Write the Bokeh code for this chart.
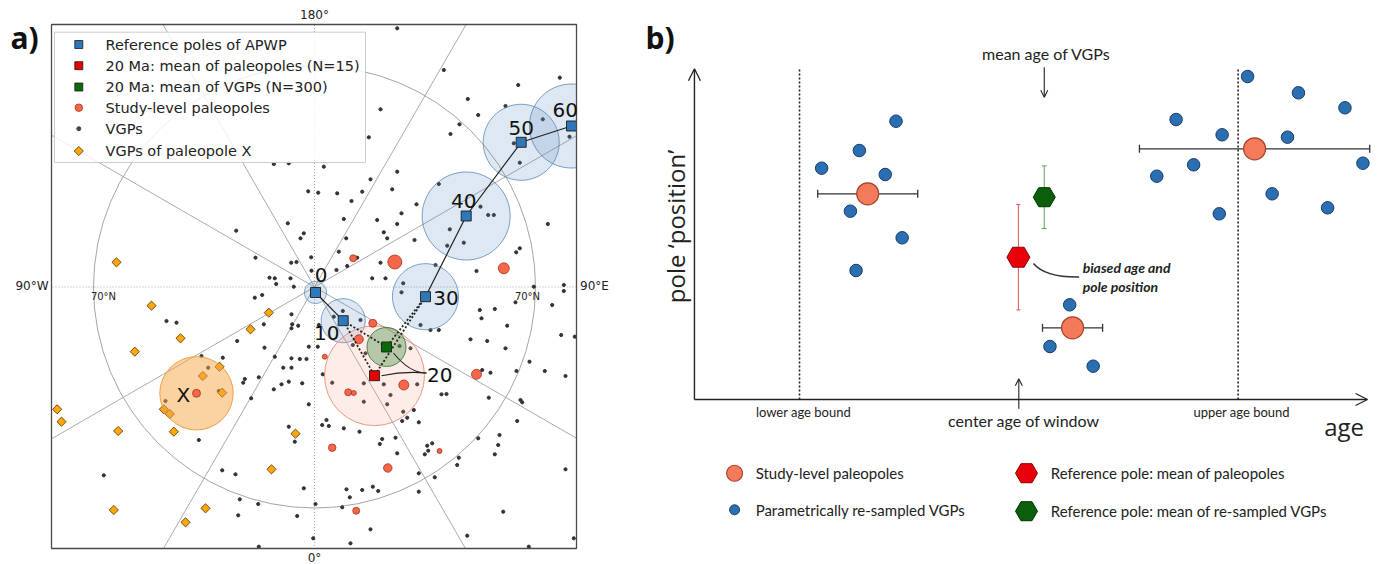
import numpy as np
from bokeh.plotting import figure
from bokeh.layouts import row
from bokeh.models import (Label, Arrow, OpenHead, ColumnDataSource, Whisker, TeeHead)
from bokeh.embed import file_html
from bokeh.resources import INLINE

# ================= Panel a data (polar map units, geographic pole at origin) =================
apwp_age = [0, 10, 30, 40, 50, 60]
apwp_x = [1.0, 28.7, 111.0, 151.7, 206.7, 257.0]
apwp_y = [-5.5, -33.7, -9.7, 71.0, 144.7, 161.0]
apwp_a95 = [11, 22, 33, 44, 38, 42]

mean_pp_20 = (60.0, -88.7)      # 20 Ma mean of paleopoles
mean_pp_20_a95 = 50
mean_vgp_20 = (72.0, -60.0)     # 20 Ma mean of VGPs
mean_vgp_20_a95 = 19.5

pole_X = (-118.0, -106.3)
pole_X_a95 = 36.7

lat70_radius = 221
map_box = (-263, 262, -261.5, 262.5)   # left, right, bottom, top of the map panel

paleo_x = [38.7, 80.3, 189.3, 58.3, 44.3, 10.3, 89.3, 33.7, 39.3, 162.0, 17.7, 125.0, 73.3, 41.7, -118.0]
paleo_y = [28.7, 25.0, 18.7, -36.3, -52.3, -69.7, -98.0, -105.3, -106.0, -87.3, -160.7, -164.0, -181.0, -223.7, -106.3]
paleo_d = [7, 14, 11, 8, 9, 5, 10, 7, 5, 10, 7.5, 5, 8.5, 7, 8]

vgp_xy = [
    (-40.7, 123), (-25.7, 123.7), (-6.3, 95.7), (3.7, 94.3), (-26.7, 63.7), (-10.7, 53.7), (-14, 48.7),
    (-78.3, 56.3), (-59, 29.3), (-3.3, 29.7), (-23.3, 24.3), (-18, 25), (-45, 9.3), (-39.7, 8.7),
    (-24, 8.7), (-38.3, 3), (-3, 16.3), (-20.7, 0.3),
    (82.7, 258.7), (129.3, 217), (203.7, 202), (245.3, 209.3), (153.3, 188), (163.7, 172), (66, 177.7),
    (145, 162.7), (136, 153), (191, 181), (54.3, 149.7), (228.3, 167.7), (199.3, 143.7), (255, 150.3),
    (205.3, 124.3), (9.3, 120.3), (82.7, 115.3), (56, 107.7), (77.7, 97.7), (124.3, 103), (22.7, 93.7),
    (47.7, 95.3), (37, 86), (102, 82.7), (87, 73.7), (62.7, 67), (82.7, 63), (29.3, 68), (69.3, 54.7),
    (72.7, 48.7), (31.7, 48.7), (100, 47), (135.3, 57.7), (166, 80.3), (173.7, 72), (179.3, 72),
    (149.3, 44.3), (132.7, 41.3), (233.3, 63), (205.3, 38.7), (201.7, 34.7), (24.3, 35.3), (42.7, 29.3),
    (32.7, 21), (22, 17), (66, 24.3), (121, 22), (162, 16), (57.7, 8.7), (71, 8.7), (219.3, 0.3),
    (249.3, 2), (88.7, 3.7),
    (-59.7, -10.7), (-52.3, -8), (-148, -34), (-138, -35.7), (-23, -27.3), (-22.3, -37.3),
    (-16.3, -38.7), (-23, -41.3), (-50.7, -37.3), (-77.3, -54), (-50, -60.7), (-5.7, -59.7),
    (-113, -69), (-91.7, -70.7), (-106.3, -80.7), (-39.7, -69.7), (-23, -71.3), (-14.7, -72), (-8, -72),
    (-31.3, -80.7), (-23, -80.7), (-69.7, -92), (-71.3, -95.7), (-55.7, -90.3), (-25.7, -94.7),
    (-33, -97.3), (-12.3, -96.3), (-40.7, -102.3), (-95.7, -104), (-149, -114), (-63.3, -111.3),
    (-5.7, -117.3), (-115.7, -153), (-25.7, -139.7), (-19.7, -154.7), (-92.3, -183.3), (-79, -187.3),
    (-210.7, -188.3), (-74.7, -212.3), (-56.3, -217), (-10.7, -201.3), (-76.3, -228.3), (-17.3, -229),
    (-1.3, -251.3), (-55.7, -259.7),
    (87, -5.3), (28.3, -24), (19.3, -29.7), (46, -33), (4.3, -38), (3.3, -59.7), (106, -38), (116, -43),
    (124.3, -43), (165.3, -23), (180.3, -22), (167, -31.3), (201, -15.3), (192.7, -38.7), (237.7, -18),
    (249.3, -4), (156, -52.3), (172.7, -54), (246.7, -48), (260.3, -49.7), (191, -61.3), (215, -74.7),
    (202, -84), (230.3, -84), (251, -89), (176, -85.7), (167.7, -83), (85, -59), (96, -61.3),
    (38.3, -58), (51, -66.3), (8.3, -87.3), (17.7, -95.7), (49.3, -96.3), (69.3, -97.3), (102.7, -97.3),
    (76, -108), (127, -107.3), (132, -107), (49.3, -114.7), (72.7, -117.3), (174.3, -110.7), (206, -113),
    (207.7, -115.3), (88.7, -124.7), (99.3, -123), (87.7, -134), (92.7, -130.7), (104.3, -135.3),
    (12, -133), (14.3, -139), (7.7, -138), (29.3, -141.3), (45, -144.7), (202.7, -134), (185, -148),
    (163.7, -151.3), (67.7, -152), (81, -150.7), (65.3, -157), (112.7, -158.7), (117.7, -156.3),
    (113.7, -163.7), (110.3, -167.3), (183.7, -158), (180.3, -167.3), (144.3, -170.7), (142.7, -178),
    (82.7, -166.3), (104.3, -186.3), (120.3, -190.3), (251, -182.3), (32, -202.3), (35.3, -210.3),
    (47.7, -203), (58.3, -199.7), (63.7, -204), (104.3, -204.7), (1, -217), (27.7, -220.3),
    (188.7, -224.7), (56, -242.3), (152.7, -248.7), (36, -256.3), (214.3, -259.7), (259.3, -251.3),
]
vgp_x = [p[0] for p in vgp_xy]
vgp_y = [p[1] for p in vgp_xy]

vgpX_x = [-198, -163, -45.7, -64, -134, -179.7, -95, -111.7, -92.3, -150.7, -144.7, -257.3, -253,
          -196.3, -140.7, -19, -43, -200.7, -109, -129]
vgpX_y = [24.7, -18.7, -25.7, -42.3, -51.3, -64.7, -79.7, -89, -105.7, -122.3, -127, -122.3, -134.7,
          -144, -144.7, -146.7, -182.3, -223, -221.3, -235.3]

legend_labels = ["Reference poles of APWP", "20 Ma: mean of paleopoles (N=15)",
                 "20 Ma: mean of VGPs (N=300)", "Study-level paleopoles", "VGPs",
                 "VGPs of paleopole X"]

# label offsets (layout) for APWP age labels
lab_dx = [5.5, -16.4, 20.5, -2.4, 0.1, -6.3]
lab_dy = [17.5, -12.3, -1.0, 15.2, 14.6, 16.3]

BLUE = "#2e78b7"
EDGE = "#1c1c1c"
PALEO = "#f4674a"
PALEO_EDGE = "#a8321e"
ORANGE = "#ffa60a"
ORANGE_EDGE = "#4a3000"

L, R, B, T = map_box


def clipped_circle(cx, cy, r, n=120):
    th = np.linspace(0, 2 * np.pi, n)
    xs = np.clip(cx + r * np.cos(th), L, R)
    ys = np.clip(cy + r * np.sin(th), B, T)
    return list(xs), list(ys)


pa = figure(width=640, height=564, x_range=(-314, 326), y_range=(-277.5, 286.5),
            x_axis_location=None, y_axis_location=None, toolbar_location=None,
            output_backend="svg", min_border=0)
pa.grid.visible = False
pa.outline_line_color = None

# graticule
pa.circle(x=[0], y=[0], radius=lat70_radius, fill_color=None, line_color="#9a9a9a", line_width=0.9)
for ang in [30, 60, 120, 150, 210, 240, 300, 330, 0, 90, 180, 270]:
    c, s = np.cos(np.radians(ang)), np.sin(np.radians(ang))
    tx = (R if c > 0 else -L) / abs(c) if abs(c) > 1e-9 else 1e9
    ty = (T if s > 0 else -B) / abs(s) if abs(s) > 1e-9 else 1e9
    t = min(tx, ty)
    dash = "1 2" if ang % 90 == 0 else "solid"
    pa.segment(x0=[0], y0=[0], x1=[t * c], y1=[t * s], line_color="#a0a0a0", line_width=0.9,
               line_dash=dash)

# VGPs and VGPs of paleopole X
pa.scatter(vgp_x, vgp_y, size=3.2, color="#333333")
pa.scatter(vgpX_x, vgpX_y, marker="square", angle=45, angle_units="deg", size=6.5,
           fill_color=ORANGE, line_color=ORANGE_EDGE, line_width=0.8)

# confidence circles
pa.circle(x=[pole_X[0]], y=[pole_X[1]], radius=pole_X_a95, fill_color="#f7a645", fill_alpha=0.5,
          line_color="#f0a040", line_width=1)
cxs, cys = [], []
for x, y, r in zip(apwp_x, apwp_y, apwp_a95):
    xs, ys = clipped_circle(x, y, r)
    cxs.append(xs)
    cys.append(ys)
pa.patches(cxs, cys, fill_color="#5b8cc0", fill_alpha=0.2, line_color="#4f7fb3", line_alpha=0.75,
           line_width=1)
pa.circle(x=[mean_pp_20[0]], y=[mean_pp_20[1]], radius=mean_pp_20_a95, fill_color="#f6a08e",
          fill_alpha=0.2, line_color="#e3826c", line_alpha=0.8, line_width=1)
pa.circle(x=[mean_vgp_20[0]], y=[mean_vgp_20[1]], radius=mean_vgp_20_a95, fill_color="#3f8f3f",
          fill_alpha=0.38, line_color="#2f6f2f", line_alpha=0.8, line_width=1)

# study-level paleopoles
pa.scatter(paleo_x, paleo_y, size=paleo_d, fill_color=PALEO, line_color=PALEO_EDGE, line_width=0.8)

# APWP path
pa.line(apwp_x[:2], apwp_y[:2], line_color="#222222", line_width=1.2)
pa.line(apwp_x[2:], apwp_y[2:], line_color="#222222", line_width=1.2)
for mx, my in [mean_pp_20, mean_vgp_20]:
    pa.line([apwp_x[1], mx, apwp_x[2]], [apwp_y[1], my, apwp_y[2]], line_color="#222222",
            line_width=1.8, line_dash="2 2")

pa.scatter(apwp_x, apwp_y, marker="square", size=10, fill_color=BLUE, line_color=EDGE, line_width=0.9)
pa.scatter([mean_pp_20[0]], [mean_pp_20[1]], marker="square", size=10, fill_color="#e60000",
           line_color=EDGE, line_width=0.9)
pa.scatter([mean_vgp_20[0]], [mean_vgp_20[1]], marker="square", size=10, fill_color="#0a6a0a",
           line_color=EDGE, line_width=0.9)

# leader lines for "20"
pa.quadratic(x0=[112, 112], y0=[-86, -86], x1=[mean_pp_20[0] + 7, mean_vgp_20[0] + 7],
             y1=[mean_pp_20[1], mean_vgp_20[1] - 6], cx=[90, 95], cy=[-84, -86],
             line_color="#222222", line_width=1.1)

# map frame
pa.quad(left=[L], right=[R], bottom=[B], top=[T], fill_color=None, line_color="#4a4a4a",
        line_width=1.3)

for age, x, y, dx, dy in zip(apwp_age, apwp_x, apwp_y, lab_dx, lab_dy):
    pa.add_layout(Label(x=x + dx, y=y + dy, text=str(age), text_align="center",
                        text_baseline="middle", text_font="DejaVu Sans", text_font_size="20px",
                        text_color="#111111"))
pa.add_layout(Label(x=125.2, y=-87.7, text="20", text_align="center", text_baseline="middle",
                    text_font="DejaVu Sans", text_font_size="20px", text_color="#111111"))
pa.add_layout(Label(x=-131.2, y=-107.7, text="X", text_align="center", text_baseline="middle",
                    text_font="DejaVu Sans", text_font_size="20px", text_color="#111111"))

# graticule labels
for tx, ty, t, fs in [(0, 272.5, "180°", "12px"), (0, -270.5, "0°", "12px"),
                      (-282.5, 1.5, "90°W", "12px"), (280, 1.5, "90°E", "12px"),
                      (-211, -9.5, "70°N", "10px"), (213, -9.5, "70°N", "10px")]:
    pa.add_layout(Label(x=tx, y=ty, text=t, text_align="center", text_baseline="middle",
                        text_font="DejaVu Sans", text_font_size=fs, text_color="#222222"))
pa.add_layout(Label(x=-304, y=249.5, text="a)", text_align="left", text_baseline="middle",
                    text_font="Open Sans", text_font_size="30px", text_font_style="bold",
                    text_color="#111111"))

# legend box (drawn by hand so the marker sizes match)
pa.quad(left=[-260], right=[51], bottom=[124.5], top=[254.8], fill_color="white", fill_alpha=0.82,
        line_color="#cccccc", line_width=1)
leg_y = [242.5, 221.3, 200.0, 179.3, 158.3, 136.0]
leg_mx, leg_tx = -235.7, -209
pa.scatter([leg_mx] * 3, leg_y[:3], marker="square", size=8,
           fill_color=[BLUE, "#e60000", "#0a6a0a"], line_color=EDGE, line_width=0.8)
pa.scatter([leg_mx], [leg_y[3]], size=7.5, fill_color=PALEO, line_color=PALEO_EDGE, line_width=0.8)
pa.scatter([leg_mx], [leg_y[4]], size=4, color="#444444")
pa.scatter([leg_mx], [leg_y[5]], marker="square", angle=45, angle_units="deg", size=6.5,
           fill_color=ORANGE, line_color=ORANGE_EDGE, line_width=0.8)
for ly, lt in zip(leg_y, legend_labels):
    pa.add_layout(Label(x=leg_tx, y=ly, text=lt, text_align="left", text_baseline="middle",
                        text_font="DejaVu Sans", text_font_size="14.5px", text_color="#222222"))

# ================= Panel b data (schematic: age vs pole position) =================
age_lower, age_center, age_upper = 10, 20, 30

vgp_age = [14.40, 12.73, 11.01, 13.91, 12.32, 14.68, 12.58,
           30.43, 32.75, 34.87, 27.17, 29.27, 32.25, 35.69, 27.97, 26.29, 31.55, 29.14, 34.08,
           22.32, 21.42, 23.39]
vgp_pos = [27.83, 24.90, 23.13, 22.50, 18.83, 16.17, 12.90,
           32.30, 30.67, 29.17, 28.00, 26.47, 26.23, 23.63, 23.47, 22.33, 20.57, 18.57, 19.17,
           9.47, 5.30, 3.33]

pp_age = [13.11, 30.75, 22.45]
pp_pos = [20.57, 25.07, 7.17]
pp_age_err = [2.28, 5.25, 1.37]

ref_pp_age, ref_pp_pos, ref_pp_err = 19.98, 14.23, 5.27
ref_vgp_age, ref_vgp_pos, ref_vgp_err = 21.16, 20.23, 3.13

BBLUE = "#2b6fb3"
BORANGE = "#f47a5c"
FONT_B = "Lato"

pb = figure(width=738, height=564, x_range=(2.75, 36.40), y_range=(-16.5, 39.9),
            x_axis_location=None, y_axis_location=None, toolbar_location=None,
            output_backend="svg", min_border=0)
pb.grid.visible = False
pb.outline_line_color = None

x0, y0 = 5.21, 0.0
pb.add_layout(Arrow(end=OpenHead(size=12, line_width=1.3, line_color="#222222"), x_start=x0, y_start=y0,
                    x_end=x0, y_end=33.07, line_width=1.4, line_color="#222222"))
pb.add_layout(Arrow(end=OpenHead(size=12, line_width=1.3, line_color="#222222"), x_start=x0, y_start=y0,
                    x_end=35.9, y_end=y0, line_width=1.4, line_color="#222222"))

pb.segment(x0=[age_lower, age_upper], y0=[0, 0], x1=[age_lower, age_upper], y1=[33.2, 33.2],
           line_color="#222222", line_width=1.6, line_dash="2 2")

# error bars
src_pp = ColumnDataSource(dict(base=pp_pos, lower=[a - e for a, e in zip(pp_age, pp_age_err)],
                               upper=[a + e for a, e in zip(pp_age, pp_age_err)]))
pb.add_layout(Whisker(source=src_pp, base="base", lower="lower", upper="upper", dimension="width",
                      line_color="#333333", line_width=1.3,
                      upper_head=TeeHead(size=8, line_color="#333333", line_width=1.3),
                      lower_head=TeeHead(size=8, line_color="#333333", line_width=1.3)))
src_ref_pp = ColumnDataSource(dict(base=[ref_pp_age], lower=[ref_pp_pos - ref_pp_err],
                                   upper=[ref_pp_pos + ref_pp_err]))
pb.add_layout(Whisker(source=src_ref_pp, base="base", lower="lower", upper="upper", dimension="height",
                      line_color="#e05555", line_width=1,
                      upper_head=TeeHead(size=4, line_color="#e05555", line_width=1),
                      lower_head=TeeHead(size=4, line_color="#e05555", line_width=1)))
src_ref_vgp = ColumnDataSource(dict(base=[ref_vgp_age], lower=[ref_vgp_pos - ref_vgp_err],
                                    upper=[ref_vgp_pos + ref_vgp_err]))
pb.add_layout(Whisker(source=src_ref_vgp, base="base", lower="lower", upper="upper", dimension="height",
                      line_color="#5fa35f", line_width=1,
                      upper_head=TeeHead(size=5, line_color="#5fa35f", line_width=1),
                      lower_head=TeeHead(size=5, line_color="#5fa35f", line_width=1)))

pb.scatter(vgp_age, vgp_pos, size=12.5, fill_color=BBLUE, line_color="#1a3b63", line_width=1)
pb.scatter(pp_age, pp_pos, size=22, fill_color=BORANGE, line_color="#a8412a", line_width=1.2)
pb.scatter([ref_pp_age], [ref_pp_pos], marker="hex", size=23, fill_color="#e8000b",
           line_color="#8a0000", line_width=1)
pb.scatter([ref_vgp_age], [ref_vgp_pos], marker="hex", size=22, fill_color="#0b5e0b",
           line_color="#033303", line_width=1)

# annotation curve
pb.quadratic(x0=[20.67], y0=[13.6], x1=[22.75], y1=[12.25], cx=[21.2], cy=[12.2],
             line_color="#333333", line_width=1.5)
pb.add_layout(Label(x=22.91, y=13.2, text="biased age and", text_baseline="middle",
                    text_font=FONT_B, text_font_size="14px", text_font_style="bold italic",
                    text_color="#222222"))
pb.add_layout(Label(x=22.91, y=11.3, text="pole position", text_baseline="middle",
                    text_font=FONT_B, text_font_size="14px", text_font_style="bold italic",
                    text_color="#222222"))

# arrows for ages
pb.add_layout(Arrow(end=OpenHead(size=7, line_width=1.1, line_color="#222222"), x_start=ref_vgp_age,
                    y_start=33.23, x_end=ref_vgp_age, y_end=30.23, line_width=1.1, line_color="#222222"))
pb.add_layout(Arrow(end=OpenHead(size=7, line_width=1.1, line_color="#222222"), x_start=age_center,
                    y_start=-0.93, x_end=age_center, y_end=2.07, line_width=1.1, line_color="#222222"))

for tx, ty, t, fs in [(21.25, 34.6, "mean age of VGPs", "16px"),
                      (10.18, -1.2, "lower age bound", "13px"),
                      (30.16, -1.2, "upper age bound", "13px"),
                      (20.24, -2.1, "center age of window", "16px")]:
    pb.add_layout(Label(x=tx, y=ty, text=t, text_align="center", text_baseline="middle",
                        text_font=FONT_B, text_font_size=fs, text_color="#222222"))
pb.add_layout(Label(x=34.83, y=-2.67, text="age", text_align="center", text_baseline="middle",
                    text_font="Open Sans", text_font_size="24px", text_color="#222222"))
pb.add_layout(Label(x=4.35, y=17.3, text="pole \u2018position\u2019", text_align="center",
                    text_baseline="middle", angle=90, angle_units="deg",
                    text_font="Open Sans", text_font_size="24px", text_color="#222222"))
pb.add_layout(Label(x=2.98, y=36.2, text="b)", text_align="left", text_baseline="middle",
                    text_font="Open Sans", text_font_size="30px", text_font_style="bold",
                    text_color="#111111"))

# legend of panel b
pb.scatter([7.04], [-7.37], size=16, fill_color=BORANGE, line_color="#a8412a", line_width=1.1)
pb.scatter([7.04], [-11.03], size=10, fill_color=BBLUE, line_color="#1a3b63", line_width=1)
pb.scatter([20.35], [-7.37], marker="hex", size=22, fill_color="#e8000b", line_color="#8a0000", line_width=1)
pb.scatter([20.35], [-11.17], marker="hex", size=22, fill_color="#0b5e0b", line_color="#033303", line_width=1)
for tx, ty, t in [(8.0, -7.37, "Study-level paleopoles"),
                  (8.0, -11.03, "Parametrically re-sampled VGPs"),
                  (21.46, -7.37, "Reference pole: mean of paleopoles"),
                  (21.46, -11.1, "Reference pole: mean of re-sampled VGPs")]:
    pb.add_layout(Label(x=tx, y=ty, text=t, text_align="left", text_baseline="middle",
                        text_font=FONT_B, text_font_size="15px", text_color="#222222"))

layout = row(pa, pb)
open("out.html", "w").write(file_html(layout, INLINE))
